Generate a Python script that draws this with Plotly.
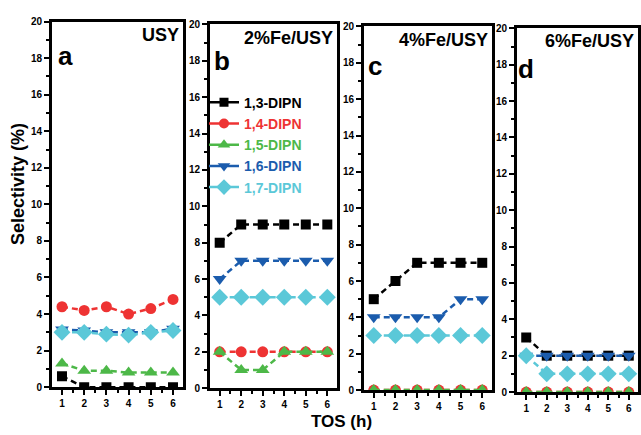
import plotly.graph_objects as go

W, H = 641, 435

# ---------------- data ----------------
tos = [1, 2, 3, 4, 5, 6]
series_names = ["1,3-DIPN", "1,4-DIPN", "1,5-DIPN", "1,6-DIPN", "1,7-DIPN"]
panel_titles = ["USY", "2%Fe/USY", "4%Fe/USY", "6%Fe/USY"]
panel_letters = ["a", "b", "c", "d"]

usy_13 = [0.6, 0, 0, 0, 0, 0]
usy_14 = [4.4, 4.2, 4.4, 4.0, 4.3, 4.8]
usy_15 = [1.3, 0.9, 0.9, 0.8, 0.8, 0.8]
usy_16 = [3.15, 3.1, 3.0, 3.0, 3.0, 3.2]
usy_17 = [3.0, 3.0, 2.9, 2.85, 3.0, 3.1]

fe2_13 = [8, 9, 9, 9, 9, 9]
fe2_14 = [2, 2, 2, 2, 2, 2]
fe2_15 = [2, 1, 1, 2, 2, 2]
fe2_16 = [6, 7, 7, 7, 7, 7]
fe2_17 = [5, 5, 5, 5, 5, 5]

fe4_13 = [5, 6, 7, 7, 7, 7]
fe4_14 = [0, 0, 0, 0, 0, 0]
fe4_15 = [0, 0, 0, 0, 0, 0]
fe4_16 = [4, 4, 4, 4, 5, 5]
fe4_17 = [3, 3, 3, 3, 3, 3]

fe6_13 = [3, 2, 2, 2, 2, 2]
fe6_14 = [0, 0, 0, 0, 0, 0]
fe6_15 = [0, 0, 0, 0, 0, 0]
fe6_16 = [2, 2, 2, 2, 2, 2]
fe6_17 = [2, 1, 1, 1, 1, 1]

panels = [
    [usy_13, usy_14, usy_15, usy_16, usy_17],
    [fe2_13, fe2_14, fe2_15, fe2_16, fe2_17],
    [fe4_13, fe4_14, fe4_15, fe4_16, fe4_17],
    [fe6_13, fe6_14, fe6_15, fe6_16, fe6_17],
]

# ---------------- style ----------------
colors = ["#000000", "#EE3333", "#4DB848", "#1B5CAD", "#5BC8D8"]
symbols = ["square", "circle", "triangle-up", "triangle-down", "diamond"]
msizes = [10, 11, 12, 12, 13]

# panel pixel boxes: left, right, top, bottom
boxes = [
    (52, 183, 16, 392),
    (210, 337, 19, 393),
    (364, 492, 21, 395),
    (517, 638, 23, 397),
]
title_y = [30, 33, 35, 36]
letter_pos = [(56, 51), (212, 57), (366, 62), (516, 65)]

FONT = "Liberation Sans, Arial, sans-serif"


def px(x):
    return x / W


def py(y):
    return 1 - y / H


fig = go.Figure()
layout = dict(
    width=W, height=H,
    margin=dict(l=0, r=0, t=0, b=0),
    paper_bgcolor="white", plot_bgcolor="white",
    font=dict(family=FONT, color="black"),
    showlegend=True,
)

annotations = []
for i, (data, box) in enumerate(zip(panels, boxes)):
    n = "" if i == 0 else str(i + 1)
    xa, ya = "x" + n, "y" + n
    l, r, t, b = box
    for j, vals in enumerate(data):
        fig.add_trace(go.Scatter(
            x=tos, y=vals, xaxis=xa, yaxis=ya,
            mode="lines+markers", name=series_names[j],
            showlegend=False,
            line=dict(color=colors[j], width=2.5, dash="6px,4px"),
            marker=dict(symbol=symbols[j], size=msizes[j], color=colors[j],
                        line=dict(width=0)),
        ))
    axcommon = dict(
        showline=True, linewidth=3, linecolor="black", mirror=True,
        ticks="outside", tickwidth=2, ticklen=5, tickcolor="black",
        showgrid=False, zeroline=False,
        tickfont=dict(family=FONT, size=10, weight="bold", color="black"),
    )
    layout["xaxis" + n] = dict(
        axcommon, domain=[px(l), px(r)], range=[0.55, 6.45],
        tickmode="array", tickvals=tos, anchor=ya,
        minor=dict(ticks="outside", ticklen=3, tickwidth=2, dtick=0.5,
                   tick0=0.5, tickcolor="black"),
    )
    layout["yaxis" + n] = dict(
        axcommon, domain=[py(b), py(t)], range=[0, 20], dtick=2, anchor=xa,
        minor=dict(ticks="outside", ticklen=3, tickwidth=2, dtick=1,
                   tickcolor="black"),
    )
    annotations.append(dict(
        xref="paper", yref="paper", x=px(r - 2), y=py(title_y[i]),
        xanchor="right", yanchor="middle", showarrow=False,
        text=panel_titles[i],
        font=dict(family=FONT, size=18, weight="bold", color="black"),
    ))
    lx, ly = letter_pos[i]
    annotations.append(dict(
        xref="paper", yref="paper", x=px(lx), y=py(ly),
        xanchor="left", yanchor="middle", showarrow=False,
        text=panel_letters[i],
        font=dict(family=FONT, size=26, weight="bold", color="black"),
    ))

# legend entries (solid line samples, coloured text)
for j in range(5):
    fig.add_trace(go.Scatter(
        x=[None], y=[None], xaxis="x2", yaxis="y2",
        mode="lines+markers",
        name='<span style="color:%s">%s</span>' % (colors[j], series_names[j]),
        showlegend=True,
        line=dict(color=colors[j], width=2.5),
        marker=dict(symbol=symbols[j], size=msizes[j] - 1, color=colors[j],
                    line=dict(width=0)),
    ))

annotations.append(dict(
    xref="paper", yref="paper", x=px(18), y=py(183),
    xanchor="center", yanchor="middle", showarrow=False, textangle=-90,
    text="Selectivity (%)",
    font=dict(family=FONT, size=18, weight="bold", color="black"),
))
annotations.append(dict(
    xref="paper", yref="paper", x=px(341), y=py(427),
    xanchor="center", yanchor="middle", showarrow=False,
    text="TOS (h)",
    font=dict(family=FONT, size=17, weight="bold", color="black"),
))

layout["annotations"] = annotations
layout["legend"] = dict(
    x=px(204), y=py(83), xanchor="left", yanchor="top",
    bgcolor="rgba(0,0,0,0)", borderwidth=0,
    font=dict(family=FONT, size=14, weight="bold", color="black"),
    tracegroupgap=0, itemwidth=30,
)
fig.update_layout(**layout)
fig.write_html("out.html")
